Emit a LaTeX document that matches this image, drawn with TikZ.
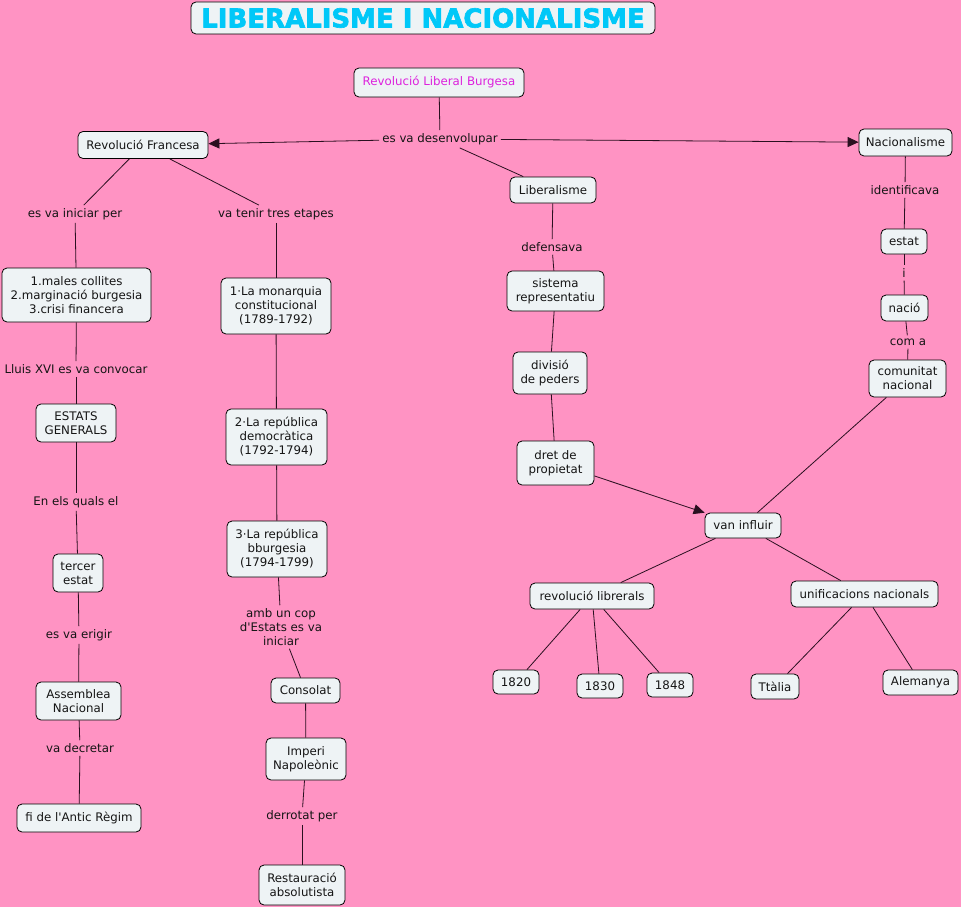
\documentclass[tikz,border=0pt]{standalone}
\usepackage{fontspec}
\setmainfont{DejaVu Sans}
\newfontfamily\titlefont[FakeBold=2.5]{DejaVu Sans Bold}
\usetikzlibrary{arrows.meta}
\definecolor{bg}{HTML}{FF93C3}
\definecolor{boxfill}{HTML}{EEF3F5}
\definecolor{linec}{HTML}{2A1020}
\definecolor{titlec}{HTML}{00C8F8}
\definecolor{magc}{HTML}{DD22DD}
\definecolor{txt}{HTML}{151515}
\newcommand\cn[6]{\node[concept,minimum width=#4pt,minimum height=#5pt] (#1) at (#2,#3) {#6};}
\newcommand\lk[4]{\node[linkph] (#1) at (#2,#3) {#4};}
\begin{document}
\begin{tikzpicture}[x=1pt,y=-1pt,
  concept/.style={draw=black, fill=boxfill, rounded corners=5pt, line width=0.8pt,
    font=\fontsize{11.8}{14}\selectfont, align=center, inner sep=0pt, text=txt},
  linkph/.style={font=\fontsize{11.8}{14}\selectfont, align=center, inner sep=3pt, text=txt},
  conn/.style={draw=linec, line width=0.8pt},
  arr/.style={conn, -{Triangle[length=11pt,width=10pt]}}]
\fill[bg] (0,0) rectangle (961,907);
\node[draw=black, fill=boxfill, rounded corners=5pt, line width=0.8pt, minimum width=464pt, minimum height=32pt, inner sep=0pt,
  font=\titlefont\fontsize{26}{28}\selectfont, text=titlec] (title) at (423,18) {LIBERALISME I NACIONALISME};
\node[concept, minimum width=170pt, minimum height=29pt, text=magc] (rlb) at (439,82.5) {Revolució Liberal Burgesa};
\cn{rf}{143}{145}{130}{27}{Revolució Francesa}
\cn{nac}{905.5}{142.5}{93}{27}{Nacionalisme}
\cn{lib}{553}{190}{86}{26}{Liberalisme}
\cn{c1}{76.5}{295}{149}{54}{1.males collites\\2.marginació burgesia\\3.crisi financera}
\cn{m1}{276}{306}{110}{56}{1·La monarquia\\constitucional\\(1789-1792)}
\cn{sr}{555.5}{291}{97}{40}{sistema\\representatiu}
\cn{estat}{904}{241.5}{46}{25}{estat}
\cn{nacio}{904.5}{308}{47}{26}{nació}
\cn{cnac}{907.5}{378.5}{77}{37}{comunitat\\nacional}
\cn{dp}{550}{373}{74}{42}{divisió\\de peders}
\cn{eg}{76}{423}{80}{38}{ESTATS\\GENERALS}
\cn{m2}{276.5}{437}{101}{56}{2·La república\\democràtica\\(1792-1794)}
\cn{dret}{555.5}{463}{77}{44}{dret de\\propietat}
\cn{vi}{743}{525.5}{76}{25}{van influir}
\cn{m3}{277}{549}{100}{56}{3·La república\\bburgesia\\(1794-1799)}
\cn{te}{78}{573}{50}{38}{tercer\\estat}
\cn{rl}{592}{596}{124}{26}{revolució librerals}
\cn{un}{864.5}{594}{147}{26}{unificacions nacionals}
\cn{ya}{516}{682}{46}{24}{1820}
\cn{yb}{600}{686}{46}{24}{1830}
\cn{yc}{670}{685}{46}{24}{1848}
\cn{tt}{775}{686.5}{48}{25}{Ttàlia}
\cn{al}{920.5}{682.5}{75}{25}{Alemanya}
\cn{cons}{305.5}{690.5}{69}{25}{Consolat}
\cn{an}{78.5}{701}{85}{38}{Assemblea\\Nacional}
\cn{imp}{306}{759}{80}{42}{Imperi\\Napoleònic}
\cn{fi}{79}{818}{124}{28}{fi de l\textquotesingle Antic Règim}
\cn{ra}{302}{885}{86}{40}{Restauració\\absolutista}
\lk{l1}{440}{139}{es va desenvolupar}
\lk{l2}{75}{214}{es va iniciar per}
\lk{l3}{276}{214}{va tenir tres etapes}
\lk{l4}{552}{247}{defensava}
\lk{l5}{905}{190}{identificava}
\lk{l6}{904}{273}{i}
\lk{l7}{908}{342}{com a}
\lk{l8}{76}{369}{Lluis XVI es va convocar}
\lk{l9}{76}{502}{En els quals el}
\lk{l10}{79}{635}{es va erigir}
\lk{l11}{80}{748}{va decretar}
\lk{l12}{281}{627}{amb un cop\\d\textquotesingle Estats es va\\iniciar}
\lk{l13}{302}{816}{derrotat per}
% connectors
\draw[conn] (rlb) -- (l1);
\draw[arr] (l1) -- (rf);
\draw[arr] (l1) -- (nac);
\draw[conn] (l1) -- (lib);
\draw[conn] (rf) -- (l2);
\draw[conn] (rf) -- (l3);
\draw[conn] (l2) -- (c1);
\draw[conn] (l3) -- (m1);
\draw[conn] (c1) -- (l8);
\draw[conn] (l8) -- (eg);
\draw[conn] (eg) -- (l9);
\draw[conn] (l9) -- (te);
\draw[conn] (te) -- (l10);
\draw[conn] (l10) -- (an);
\draw[conn] (an) -- (l11);
\draw[conn] (l11) -- (fi);
\draw[conn] (m1) -- (m2);
\draw[conn] (m2) -- (m3);
\draw[conn] (m3) -- (l12);
\draw[conn] (l12) -- (cons);
\draw[conn] (cons) -- (imp);
\draw[conn] (imp) -- (l13);
\draw[conn] (l13) -- (ra);
\draw[conn] (lib) -- (l4);
\draw[conn] (l4) -- (sr);
\draw[conn] (sr) -- (dp);
\draw[conn] (dp) -- (dret);
\draw[arr] (dret) -- (vi);
\draw[conn] (nac) -- (l5);
\draw[conn] (l5) -- (estat);
\draw[conn] (estat) -- (l6);
\draw[conn] (l6) -- (nacio);
\draw[conn] (nacio) -- (l7);
\draw[conn] (l7) -- (cnac);
\draw[conn] (cnac) -- (vi);
\draw[conn] (vi) -- (rl);
\draw[conn] (vi) -- (un);
\draw[conn] (rl) -- (ya);
\draw[conn] (rl) -- (yb);
\draw[conn] (rl) -- (yc);
\draw[conn] (un) -- (tt);
\draw[conn] (un) -- (al);
\end{tikzpicture}
\end{document}
